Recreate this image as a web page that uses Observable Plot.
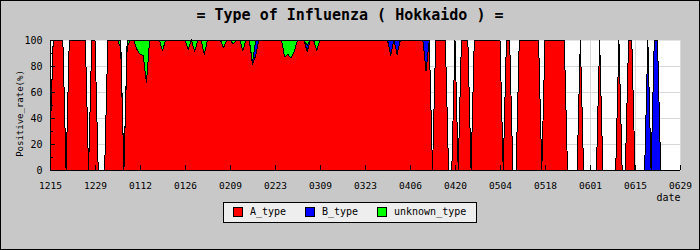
<!DOCTYPE html>
<html>
<head>
<meta charset="utf-8">
<script src="https://cdn.jsdelivr.net/npm/d3@7"></script>
<script src="https://cdn.jsdelivr.net/npm/@observablehq/plot@0.6"></script>
<style>
html, body { margin: 0; padding: 0; background: #c8c8c8; }
#chart { position: relative; width: 700px; height: 250px; background: #c8c8c8; overflow: hidden; font-family: "DejaVu Sans Mono", monospace; }
#border { position: absolute; left: 0; top: 0; width: 700px; height: 250px; box-sizing: border-box; border: 1px solid #000; pointer-events: none; }
#title { position: absolute; left: 0; top: 8px; width: 700px; text-align: center; font: bold 15px/15px "DejaVu Sans Mono", monospace; color: #000; white-space: pre; }
#plot { position: absolute; left: 0; top: 0; }
#legend { position: absolute; left: 223px; top: 202px; width: 254px; height: 21px; box-sizing: border-box; border: 1px solid #000; background: #eeeeee; }
.item { position: absolute; top: 4px; height: 10px; display: flex; align-items: center; font: 10px/10px "DejaVu Sans Mono", monospace; color: #000; white-space: nowrap; }
.sw { width: 10px; height: 10px; box-sizing: border-box; border: 1px solid #000; margin-right: 7px; flex: none; }
</style>
</head>
<body>
<div id="chart">
  <div id="plot"></div>
  <div id="title"></div>
  <div id="legend"></div>
  <div id="border"></div>
</div>
<script>
// ---- data (daily, starting 12/15) ----
const chartTitle = "= Type of Influenza ( Hokkaido ) =";
const yLabel = "Positive_rate(%)";
const xLabel = "date";
const typeNames = ["A_type", "B_type", "unknown_type"];
const typeColors = ["#ff0000", "#0000ff", "#00ff00"];
const xTickLabels = ["1215","1229","0112","0126","0209","0223","0309","0323","0406","0420","0504","0518","0601","0615","0629"];
const yTicks = [0, 20, 40, 60, 80, 100];
const yMinorTicks = [10, 30, 50, 70, 90];

const aType = [
  20,100,100,100,100,0,100,100,100,100,
  100,100,0,100,100,0,0,0,100,100,
  100,100,94,0,95,100,100,93,89,88,
  67,100,100,100,100,92,100,100,100,100,
  100,100,100,93,100,91,100,100,89,100,
  100,100,100,100,94,100,100,97,100,100,
  92,100,100,81,88,100,100,100,100,100,
  100,100,100,87,89,86,91,100,100,100,
  91,100,100,92,100,100,100,100,100,100,
  100,100,100,100,100,100,100,100,100,100,
  100,100,100,100,100,100,88,100,89,100,
  100,100,100,100,100,100,100,76,100,0,
  100,100,100,100,0,0,100,0,100,100,
  100,0,100,100,100,100,100,100,100,100,
  100,0,100,100,0,0,100,100,100,100,
  100,100,100,0,100,100,100,100,100,100,
  100,0,0,0,0,100,0,0,0,0,
  0,100,0,0,0,0,0,100,0,0,
  100,100,0,0,0,0,0,0,0,0,
  0,0,0,0,0,0,0
];
const bType = [
  0,0,0,0,0,0,0,0,0,0,
  0,0,0,0,0,0,0,0,0,0,
  0,0,0,0,0,0,0,0,0,0,
  0,0,0,0,0,0,0,0,0,0,
  0,0,0,0,0,0,0,0,0,0,
  0,0,0,0,0,0,0,0,0,0,
  0,0,0,2,12,0,0,0,0,0,
  0,0,0,0,0,0,0,0,0,0,
  5,0,0,0,0,0,0,0,0,0,
  0,0,0,0,0,0,0,0,0,0,
  0,0,0,0,0,0,12,0,11,0,
  0,0,0,0,0,0,0,24,0,0,
  0,0,0,0,0,0,0,0,0,0,
  0,0,0,0,0,0,0,0,0,0,
  0,0,0,0,0,0,0,0,0,0,
  0,0,0,0,0,0,0,0,0,0,
  0,0,0,0,0,0,0,0,0,0,
  0,0,0,0,0,0,0,0,0,0,
  0,0,0,0,0,0,100,0,100,100,
  0,0,0,0,0,0,0
];
const unknownType = [
  0,0,0,0,0,0,0,0,0,0,
  0,0,0,0,0,0,0,0,0,0,
  0,0,6,0,5,0,0,7,11,12,
  33,0,0,0,0,8,0,0,0,0,
  0,0,0,7,0,9,0,0,11,0,
  0,0,0,0,6,0,0,3,0,0,
  8,0,0,17,0,0,0,0,0,0,
  0,0,0,13,11,14,9,0,0,0,
  4,0,0,8,0,0,0,0,0,0,
  0,0,0,0,0,0,0,0,0,0,
  0,0,0,0,0,0,0,0,0,0,
  0,0,0,0,0,0,0,0,0,0,
  0,0,0,0,0,0,0,0,0,0,
  0,0,0,0,0,0,0,0,0,0,
  0,0,0,0,0,0,0,0,0,0,
  0,0,0,0,0,0,0,0,0,0,
  0,0,0,0,0,0,0,0,0,0,
  0,0,0,0,0,0,0,0,0,0,
  0,0,0,0,0,0,0,0,0,0,
  0,0,0,0,0,0,0
];

// ---- build table ----
const dates = aType.map((_, i) => new Date(Date.UTC(2018, 11, 15 + i)));
const parseTick = s => { const m = +s.slice(0, 2), d = +s.slice(2); return new Date(Date.UTC(m === 12 ? 2018 : 2019, m - 1, d)); };
const xTickDates = xTickLabels.map(parseTick);
const labelByTime = new Map(xTickDates.map((d, i) => [+d, xTickLabels[i]]));
const seriesValues = [aType, bType, unknownType];
const rows = [];
typeNames.forEach((t, k) => seriesValues[k].forEach((v, i) => rows.push({date: dates[i], type: t, value: v})));

const plot = Plot.plot({
  width: 700,
  height: 202,
  marginLeft: 50,
  marginRight: 20,
  marginTop: 40,
  marginBottom: 32,
  style: "background: transparent; font-family: 'DejaVu Sans Mono', monospace; font-size: 9.5px; color: #000; overflow: visible;",
  x: {type: "utc", domain: [xTickDates[0], xTickDates[xTickDates.length - 1]]},
  y: {domain: [0, 100]},
  color: {domain: typeNames, range: typeColors},
  marks: [
    Plot.frame({fill: "white", stroke: null}),
    Plot.gridY({ticks: [20, 40, 60, 80], stroke: "#d8d8d8", strokeOpacity: 1, shapeRendering: "crispEdges"}),
    Plot.gridX({ticks: xTickDates, stroke: "#d8d8d8", strokeOpacity: 1, shapeRendering: "crispEdges"}),
    Plot.areaY(rows, {x: "date", y: "value", z: "type", fill: "type", order: typeNames, stroke: "#000", strokeWidth: 1, shapeRendering: "crispEdges"}),
    Plot.ruleY([0], {stroke: "#000", shapeRendering: "crispEdges"}),
    Plot.ruleX([xTickDates[0]], {stroke: "#000", shapeRendering: "crispEdges"}),
    Plot.tickX(xTickDates, {x: d => d, insetTop: 125, stroke: "#000", shapeRendering: "crispEdges"}),
    Plot.tickY(yTicks, {y: d => d, insetRight: 625, stroke: "#000", shapeRendering: "crispEdges"}),
    Plot.tickY(yMinorTicks, {y: d => d, insetRight: 627, stroke: "#000", shapeRendering: "crispEdges"}),
    Plot.axisY({ticks: yTicks, tickSize: 0, tickPadding: 8, label: null, fontSize: 10}),
    Plot.axisX({ticks: xTickDates, tickSize: 0, tickPadding: 12, tickFormat: d => labelByTime.get(+d), label: null, fontSize: 9.5}),
    Plot.text([xLabel], {frameAnchor: "bottom-right", textAnchor: "end", lineAnchor: "top", dy: 23, fontSize: 10, text: d => d}),
    Plot.text([yLabel], {frameAnchor: "left", rotate: -90, dx: -30, dy: 8, textAnchor: "middle", lineAnchor: "middle", fontSize: 9, text: d => d})
  ]
});
document.getElementById("plot").appendChild(plot);

document.getElementById("title").textContent = chartTitle;
const legendX = [9, 81, 153];
const legend = document.getElementById("legend");
typeNames.forEach((t, k) => {
  const item = document.createElement("div");
  item.className = "item";
  item.style.left = legendX[k] + "px";
  const sw = document.createElement("span");
  sw.className = "sw";
  sw.style.background = typeColors[k];
  item.appendChild(sw);
  item.appendChild(document.createTextNode(t));
  legend.appendChild(item);
});
</script>
</body>
</html>
